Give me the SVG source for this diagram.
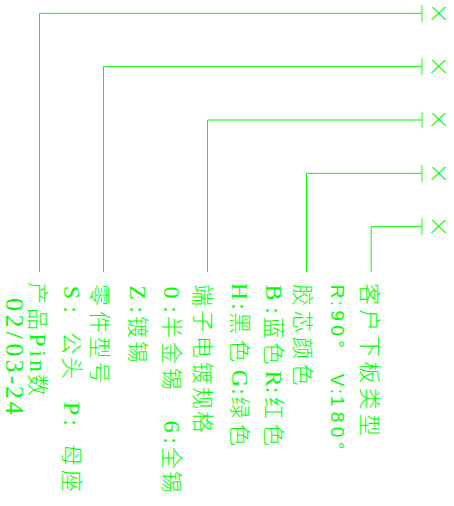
<svg xmlns="http://www.w3.org/2000/svg" width="454" height="506" viewBox="0 0 454 506">
<style>
.bg{fill:#ffffff}
.ln{stroke:#00ff00;stroke-width:1;fill:none}
.tk{stroke:#00ff00;stroke-width:1.2;fill:none;opacity:0.75}
.t{font-family:"Liberation Serif","Noto Sans CJK SC",serif;font-size:22px;fill:#00ff00;text-anchor:middle}
.c{font-family:"Noto Sans CJK SC",sans-serif;font-weight:300}
.l{font-family:"Liberation Serif",serif;font-size:24px}
.d{font-family:"Liberation Serif",serif;font-size:26px}
.s{font-family:"Liberation Sans",sans-serif;font-size:19px}
.x{font-family:"DejaVu Sans","Liberation Sans",sans-serif;font-size:17px;font-weight:300;fill:#00ff00}
</style>
<rect class="bg" x="0" y="0" width="454" height="506"/>
<g id="connectors">
<path class="ln" d="M39.5,272.3 V13.33 H422"/>
<path class="ln" d="M103.5,272.3 V66.67 H422"/>
<path class="ln" d="M207.5,272.3 V120 H422"/>
<path class="ln" d="M306.5,272.3 V173.33 H422"/>
<path class="ln" d="M371.2,272.3 V226.67 H422"/>
<path class="tk" d="M422,5 V21.66 M422,58.34 V75 M422,111.67 V128.33 M422,165 V181.66 M422,218.34 V235"/>
</g>
<g id="mark-1"><text class="x" x="429" y="19.6" textLength="19" lengthAdjust="spacingAndGlyphs">X</text></g>
<g id="mark-2"><text class="x" x="429" y="72.9" textLength="19" lengthAdjust="spacingAndGlyphs">X</text></g>
<g id="mark-3"><text class="x" x="429" y="126.3" textLength="19" lengthAdjust="spacingAndGlyphs">X</text></g>
<g id="mark-4"><text class="x" x="429" y="179.6" textLength="19" lengthAdjust="spacingAndGlyphs">X</text></g>
<g id="mark-5"><text class="x" x="429" y="232.9" textLength="19" lengthAdjust="spacingAndGlyphs">X</text></g>
<g transform="rotate(90)">
<g id="label-board-type">
<text class="t c" y="-361.5" x="294 320.2 346.4 372.6 398.8 425">客户下板类型</text>
<text class="t s" y="-331" x="291.5 303.5 315.5 330.5 344 380 391.5 401 417 432 445.5">R:90°V:180°</text>
</g>
<g id="label-housing-color">
<text class="t c" y="-294.5" x="295 321.5 348 374.5">胶芯颜色</text>
<text class="t l" y="-266" x="292.5 310.5 378.5 390">B:R:</text>
<text class="t c" y="-266" x="328 353.5 408 435">蓝色红色</text>
<text class="t l" y="-231.5" x="291.5 306.5 378.5 391.5">H:G:</text>
<text class="t c" y="-231.5" x="323 351 407.5 435">黑色绿色</text>
</g>
<g id="label-plating">
<text class="t c" y="-194.5" x="295 321 347 373 398 422">端子电镀规格</text>
<text class="t l" y="-163.5" x="292.5 309.5 426.5 440.5">0:6:</text>
<text class="t c" y="-163.5" x="327 353 379 458 482">半金锡全锡</text>
<text class="t l" y="-129.5" x="292.5 309.5">Z:</text>
<text class="t c" y="-129.5" x="327 352">镀锡</text>
</g>
<g id="label-part-type">
<text class="t c" y="-92" x="295 322 347.5 372.5">零件型号</text>
<text class="t l" y="-64" x="292.5 309.5 408.5 422.5">S:P:</text>
<text class="t c" y="-64" x="343 368 455 481">公头母座</text>
</g>
<g id="label-pin-count">
<text class="t c" y="-29.5" x="293 319 385">产品数</text>
<text class="t l" y="-29.5" x="340 353.5 366">Pin</text>
<text class="t d" y="-5.8" x="304.5 321 335 350 366 380 392.5 408">02/03-24</text>
</g>
</g>
</svg>
